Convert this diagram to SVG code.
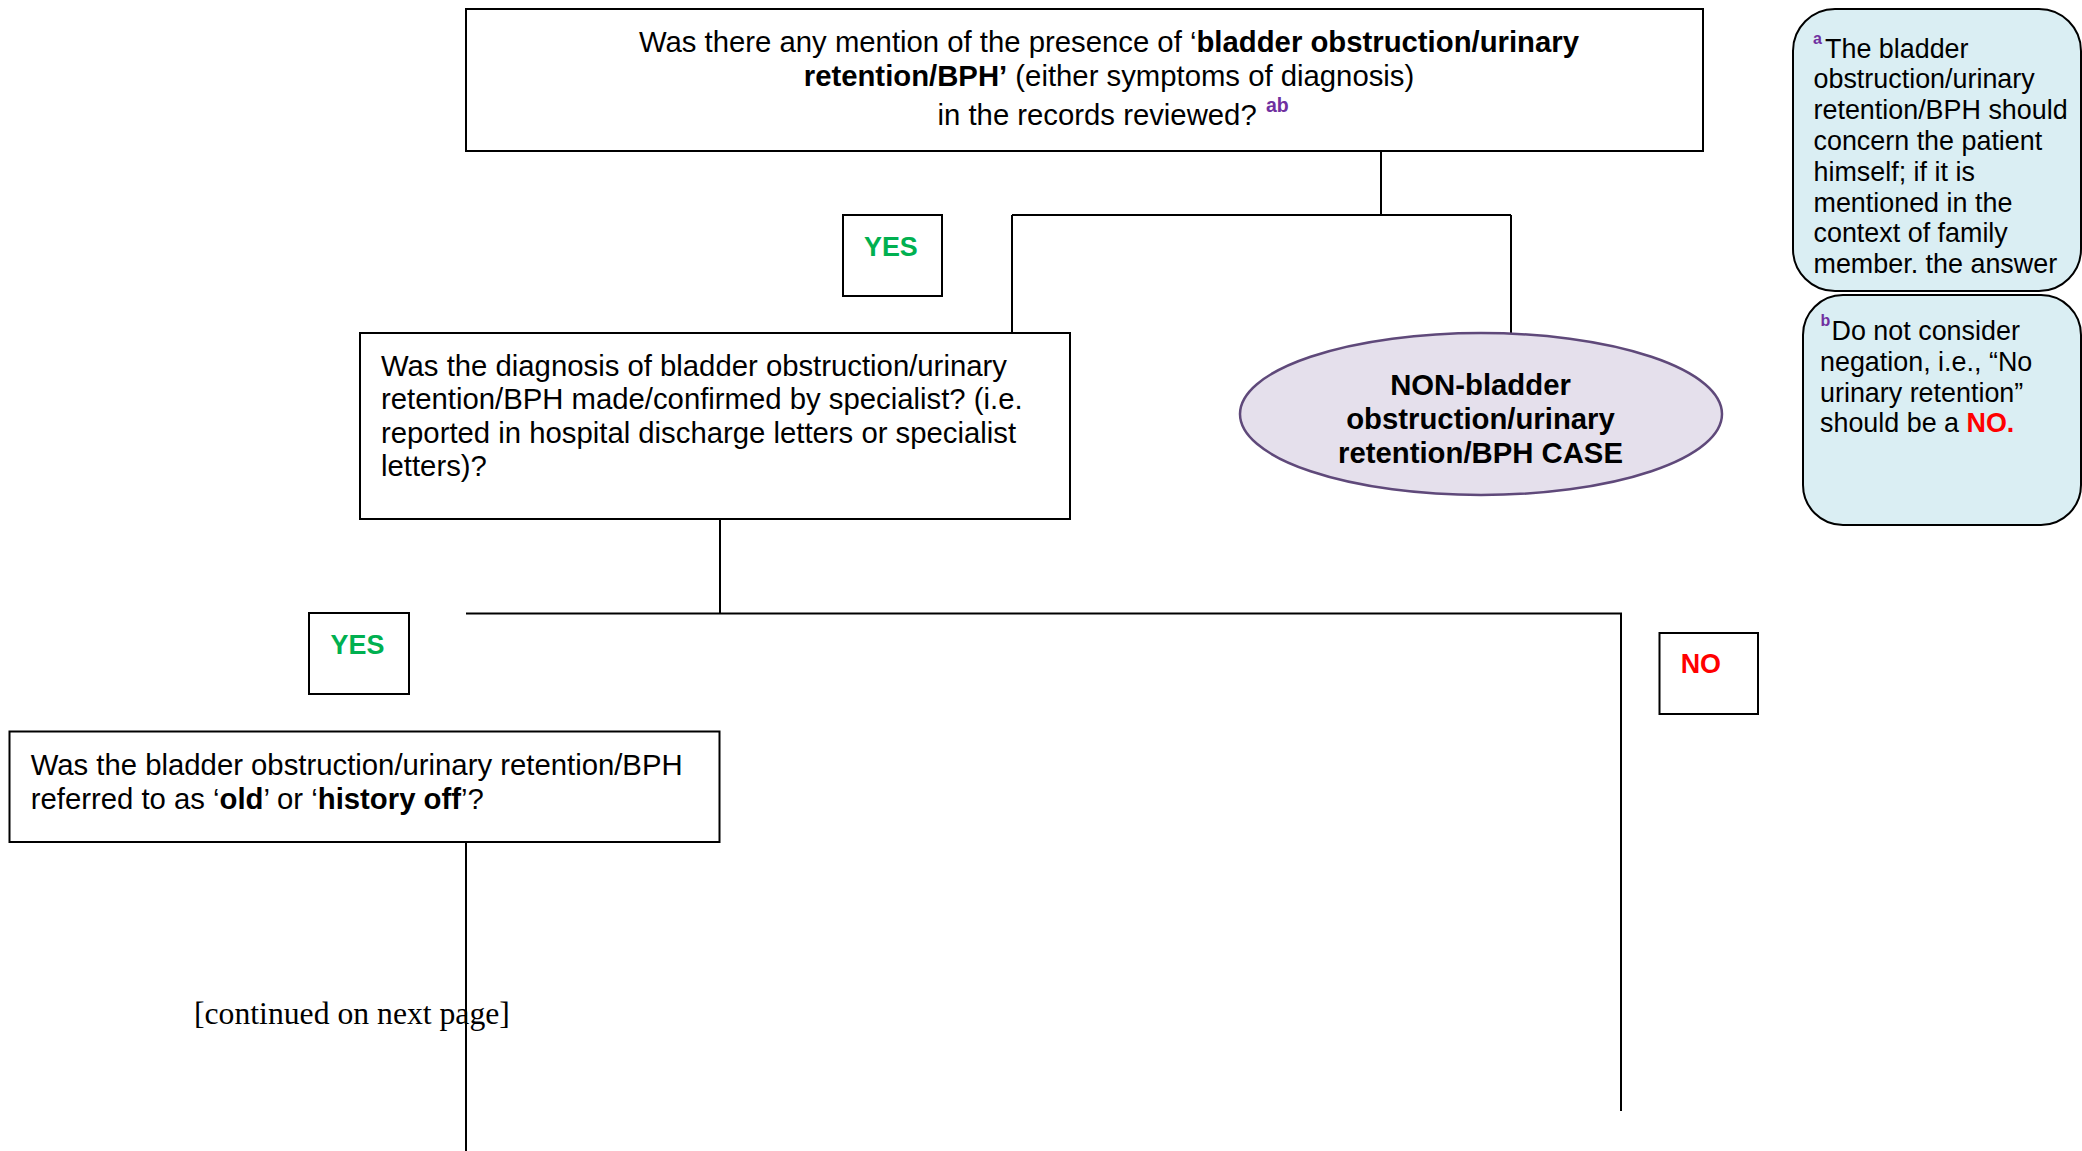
<svg xmlns="http://www.w3.org/2000/svg" width="2082" height="1151" viewBox="0 0 2082 1151">
  <defs>
    <style>
      text { font-family: "Liberation Sans", Arial, sans-serif; fill: #000; }
      .q { font-size: 29.3px; }
      .b { font-weight: bold; }
      .box { fill: #fff; stroke: #000; stroke-width: 2; }
      .lbl { fill: #fff; stroke: #000; stroke-width: 2; }
      .yes { font-size: 26.9px; font-weight: bold; fill: #00B050; }
      .no { font-size: 26.9px; font-weight: bold; fill: #FF0000; }
      .note { fill: #DAEEF3; stroke: #000; stroke-width: 2; }
      .nt { font-size: 26.9px; }
      .sup { font-weight: bold; fill: #7030A0; }
      .wire { fill: none; stroke: #000; stroke-width: 2; }
      .serif { font-family: "Liberation Serif", "Times New Roman", serif; font-size: 31.7px; }
    </style>
    <clipPath id="noteAClip">
      <rect x="1795" y="11" width="286" height="262"/>
    </clipPath>
  </defs>
  <rect width="2082" height="1151" fill="#fff"/>

  <!-- connectors -->
  <g id="connectors">
    <path class="wire" d="M1381 151 V215"/>
    <path class="wire" d="M1012 215 H1511"/>
    <path class="wire" d="M1012 215 V333"/>
    <path class="wire" d="M1511 215 V333"/>
    <path class="wire" d="M720 519 V613.5"/>
    <path class="wire" d="M466 613.5 H1621 V1111"/>
    <path class="wire" d="M466 842 V1151"/>
  </g>

  <!-- question 1 -->
  <g id="q1">
    <rect class="box" x="466" y="9" width="1237" height="142"/>
    <text class="q" x="1109" y="52" text-anchor="middle">Was there any mention of the presence of ‘<tspan class="b">bladder obstruction/urinary</tspan></text>
    <text class="q" x="1109" y="86" text-anchor="middle"><tspan class="b">retention/BPH’</tspan> (either symptoms of diagnosis)</text>
    <text class="q" x="937.5" y="125">in the records reviewed?</text>
    <text class="sup" x="1266" y="111.5" font-size="19.5">ab</text>
  </g>

  <!-- YES label (q1) -->
  <g id="yes1">
    <rect class="lbl" x="843" y="215" width="99" height="81"/>
    <text class="yes" x="864" y="256">YES</text>
  </g>

  <!-- question 2 -->
  <g id="q2">
    <rect class="box" x="360" y="333" width="710" height="186"/>
    <text class="q" x="381" y="376">Was the diagnosis of bladder obstruction/urinary</text>
    <text class="q" x="381" y="409.4">retention/BPH made/confirmed by specialist? (i.e.</text>
    <text class="q" x="381" y="442.8">reported in hospital discharge letters or specialist</text>
    <text class="q" x="381" y="476.2">letters)?</text>
  </g>

  <!-- outcome: non-case -->
  <g id="noncase">
    <ellipse cx="1481" cy="414" rx="241" ry="81" fill="#E5E0EC" stroke="#5F497A" stroke-width="2.5"/>
    <text class="q b" x="1480.5" y="395" text-anchor="middle">NON-bladder</text>
    <text class="q b" x="1480.5" y="429" text-anchor="middle">obstruction/urinary</text>
    <text class="q b" x="1480.5" y="463" text-anchor="middle">retention/BPH CASE</text>
  </g>

  <!-- footnote a -->
  <g id="note-a">
    <rect class="note" x="1793" y="9" width="288" height="282" rx="42" ry="42"/>
    <g clip-path="url(#noteAClip)">
      <text class="sup" x="1813" y="44" font-size="16">a</text>
      <text class="nt" x="1825" y="57.5">The bladder</text>
      <text class="nt" x="1813.5" y="88.3">obstruction/urinary</text>
      <text class="nt" x="1813.5" y="119.1">retention/BPH should</text>
      <text class="nt" x="1813.5" y="149.9">concern the patient</text>
      <text class="nt" x="1813.5" y="180.7">himself; if it is</text>
      <text class="nt" x="1813.5" y="211.5">mentioned in the</text>
      <text class="nt" x="1813.5" y="242.3">context of family</text>
      <text class="nt" x="1813.5" y="273.1">member. the answer</text>
    </g>
  </g>

  <!-- footnote b -->
  <g id="note-b">
    <rect class="note" x="1803" y="295" width="278" height="230" rx="40" ry="40"/>
    <text class="sup" x="1820.5" y="326" font-size="16">b</text>
    <text class="nt" x="1831.5" y="340">Do not consider</text>
    <text class="nt" x="1820" y="370.8">negation, i.e., “No</text>
    <text class="nt" x="1820" y="401.6">urinary retention”</text>
    <text class="nt" x="1820" y="432.4">should be a <tspan class="b" fill="#FF0000">NO.</tspan></text>
  </g>

  <!-- YES label (q2) -->
  <g id="yes2">
    <rect class="lbl" x="309" y="613" width="100" height="81"/>
    <text class="yes" x="330.6" y="654">YES</text>
  </g>

  <!-- NO label (q2) -->
  <g id="no2">
    <rect class="lbl" x="1659.5" y="633" width="98.5" height="81"/>
    <text class="no" x="1680.7" y="672.7">NO</text>
  </g>

  <!-- question 3 -->
  <g id="q3">
    <rect class="box" x="9.5" y="731.5" width="710" height="110.5"/>
    <text class="q" x="30.7" y="775">Was the bladder obstruction/urinary retention/BPH</text>
    <text class="q" x="30.7" y="808.5">referred to as ‘<tspan class="b">old</tspan>’ or ‘<tspan class="b">history off</tspan>’?</text>
  </g>

  <text class="serif" x="194" y="1024">[continued on next page]</text>
</svg>
